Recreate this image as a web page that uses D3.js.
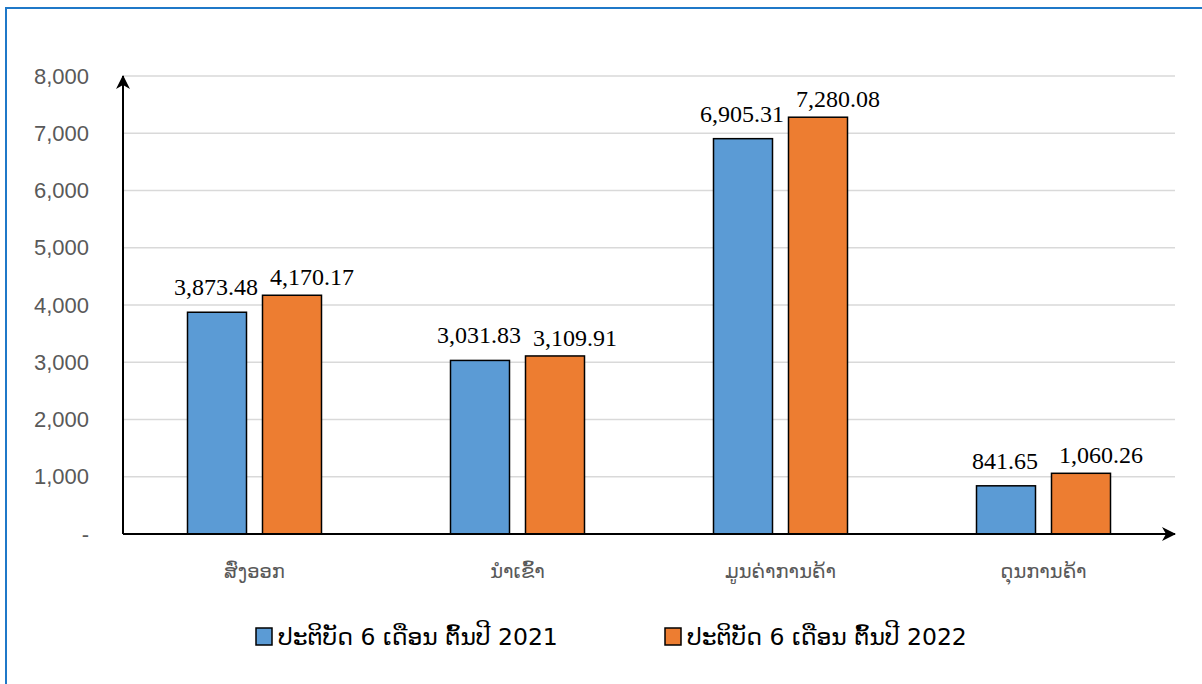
<!DOCTYPE html>
<html><head><meta charset="utf-8">
<script src="https://cdn.jsdelivr.net/npm/d3@7"></script>
<style>html,body{margin:0;padding:0;background:#fff;}svg{display:block;}</style>
</head><body>
<svg id="c" width="1202" height="684"></svg>
<script>
const categories = ["ສົ່ງອອກ", "ນຳເຂົ້າ", "ມູນຄ່າການຄ້າ", "ດຸນການຄ້າ"];
const seriesNames = ["ປະຕິບັດ 6 ເດືອນ ຕົ້ນປີ 2021", "ປະຕິບັດ 6 ເດືອນ ຕົ້ນປີ 2022"];
const values2021 = [3873.48, 3031.83, 6905.31, 841.65];
const values2022 = [4170.17, 3109.91, 7280.08, 1060.26];
const yTicks = [0, 1000, 2000, 3000, 4000, 5000, 6000, 7000, 8000];
const colors = ["#5B9BD5", "#ED7D31"];

(function(){
const svg = d3.select("#c");
svg.append("path").attr("d", "M6,684 V8 H1202").attr("fill","none").attr("stroke","#1F78C8").attr("stroke-width",2);

const pL = 123, pR = 1175, pT = 76, pB = 534;
const x = d3.scaleBand().domain(categories).range([pL, pR]);
const y = d3.scaleLinear().domain([0, 8000]).range([pB, pT]);
const inner = d3.scaleBand().domain([0,1]).range([0, 134]).paddingInner(0.2133);

svg.append("g").selectAll("line").data(yTicks.filter(d=>d>0)).join("line")
  .attr("x1", pL).attr("x2", pR).attr("y1", d=>y(d)).attr("y2", d=>y(d))
  .attr("stroke", "#d9d9d9").attr("stroke-width", 1.5);

const fmt = d3.format(",");
svg.append("g").selectAll("text").data(yTicks).join("text")
  .attr("x", 89).attr("y", d=>y(d)).attr("dy","0.35em")
  .attr("text-anchor","end").attr("font-family","Liberation Sans, Arial, sans-serif")
  .attr("font-size", 22).attr("fill","#595959")
  .text(d => d===0 ? "-" : fmt(d));

const series = [values2021, values2022];
const labelDy = [17, 10], labelDx = [-1, 20];
const g = svg.append("g");
series.forEach((vals, si) => {
  categories.forEach((c, ci) => {
    const bx = x(c) + x.bandwidth()/2 - 67 + inner(si);
    g.append("rect").attr("x", bx).attr("y", y(vals[ci]))
      .attr("width", inner.bandwidth()).attr("height", pB - y(vals[ci]))
      .attr("fill", colors[si]).attr("stroke","#000").attr("stroke-width",1.5);
  });
});
series.forEach((vals, si) => {
  categories.forEach((c, ci) => {
    const bx = x(c) + x.bandwidth()/2 - 67 + inner(si);
    g.append("text").attr("x", bx + inner.bandwidth()/2 + labelDx[si]).attr("y", y(vals[ci]) - labelDy[si])
      .attr("text-anchor","middle").attr("font-family","Liberation Serif, Times New Roman, serif")
      .attr("font-size", 24).attr("fill","#000")
      .text(d3.format(",.2f")(vals[ci]));
  });
});

const defs = svg.append("defs");
defs.append("marker").attr("id","arr2").attr("viewBox","0 0 14 14").attr("refX",13).attr("refY",7)
  .attr("markerWidth",14).attr("markerHeight",14).attr("markerUnits","userSpaceOnUse").attr("orient","auto")
  .append("path").attr("d","M0,0 L14,7 L0,14 L4,7 Z").attr("fill","#000");
svg.append("line").attr("x1", pL).attr("x2", pL).attr("y1", pB).attr("y2", pT)
  .attr("stroke","#000").attr("stroke-width",2).attr("marker-end","url(#arr2)");
svg.append("line").attr("x1", pL).attr("x2", pR).attr("y1", pB).attr("y2", pB)
  .attr("stroke","#000").attr("stroke-width",2).attr("marker-end","url(#arr2)");

svg.append("g").selectAll("text").data(categories).join("text")
  .attr("x", d => x(d) + x.bandwidth()/2).attr("y", 578)
  .attr("text-anchor","middle").attr("font-family","DejaVu Sans, sans-serif")
  .attr("font-size", 19.5).attr("fill","#595959").text(d=>d);

const legX = [256, 665];
seriesNames.forEach((n, i) => {
  svg.append("rect").attr("x", legX[i]).attr("y", 628).attr("width", 16).attr("height", 17)
    .attr("fill", colors[i]).attr("stroke","#000").attr("stroke-width",1.5);
  svg.append("text").attr("x", legX[i] + 22).attr("y", 645)
    .attr("font-family","DejaVu Sans, sans-serif").attr("font-size", 23.5).attr("fill","#000").text(n);
});
})();
</script>
</body></html>
